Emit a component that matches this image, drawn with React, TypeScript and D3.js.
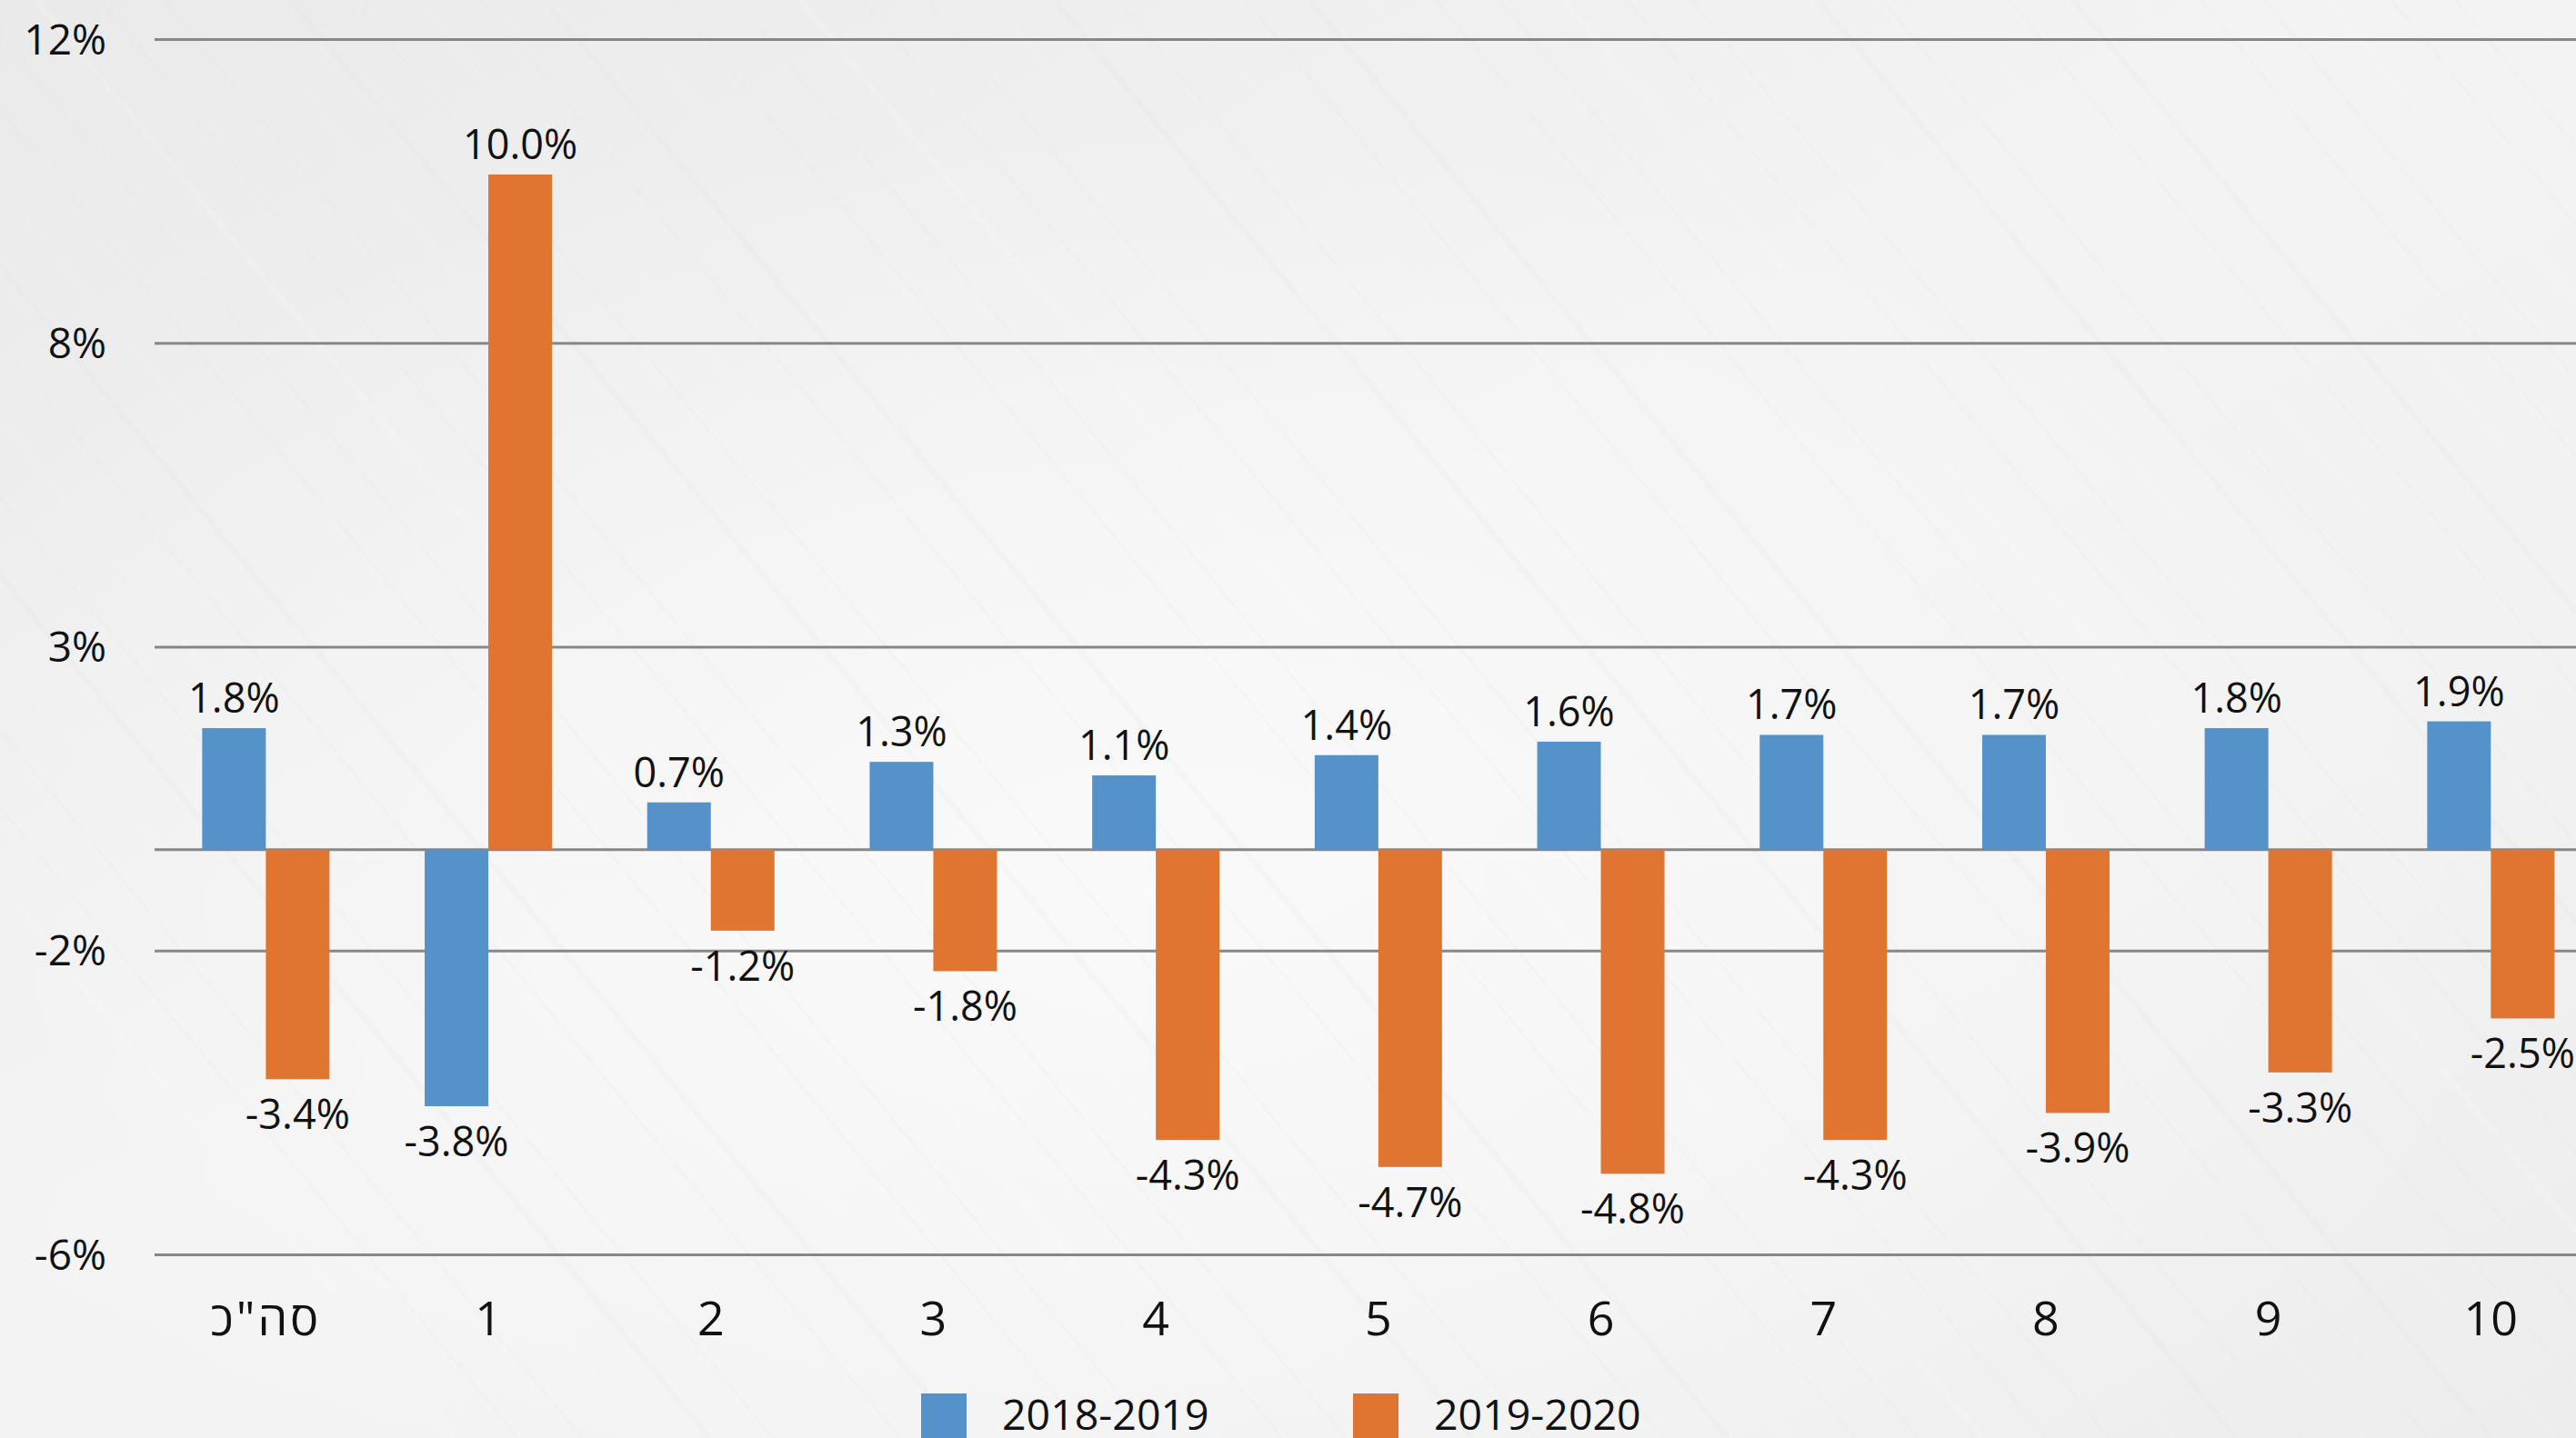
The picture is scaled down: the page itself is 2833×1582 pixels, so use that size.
import React from 'react';
import * as d3 from 'd3';

// ---- data ----
const categories = ['סה"כ', '1', '2', '3', '4', '5', '6', '7', '8', '9', '10'];
const series2018 = [1.8, -3.8, 0.7, 1.3, 1.1, 1.4, 1.6, 1.7, 1.7, 1.8, 1.9];
const series2019 = [-3.4, 10.0, -1.2, -1.8, -4.3, -4.7, -4.8, -4.3, -3.9, -3.3, -2.5];
const seriesNames = ['2018-2019', '2019-2020'];
const seriesColors = ['#5692CA', '#E07531'];
const tickValues = [12, 7.5, 3, -1.5, -6];
const tickLabels = ['12%', '8%', '3%', '-2%', '-6%'];

const W = 2833;
const H = 1582;
const FONT = "'Open Sans', 'DejaVu Sans', sans-serif";

export default function App() {
  const plotLeft = 170;
  const step = 244.7;
  const x0 = d3
    .scaleBand<string>()
    .domain(categories)
    .range([plotLeft, plotLeft + step * categories.length])
    .paddingInner(1 - 140 / step)
    .paddingOuter((1 - 140 / step) / 2);
  const x1 = d3.scaleBand<string>().domain(seriesNames).range([0, x0.bandwidth()]).padding(0);
  const y = d3.scaleLinear().domain([-6, 12]).range([1380.4, 43.4]);

  const allSeries = [series2018, series2019];

  // decorative diagonal streaks (background texture)
  const streaks = d3.range(0, 60).map((i) => i);

  return (
    <svg
      width={W}
      height={H}
      style={{ position: 'absolute', left: 0, top: 0, display: 'block' }}
      fontFamily={FONT}
    >
      <defs>
        <linearGradient id="bg" x1="0" y1="0" x2="1" y2="1">
          <stop offset="0" stopColor="#eaeaea" />
          <stop offset="0.45" stopColor="#f3f3f3" />
          <stop offset="0.7" stopColor="#f2f2f2" />
          <stop offset="1" stopColor="#ededed" />
        </linearGradient>
        <radialGradient id="glow" cx="0.45" cy="0.62" r="0.55">
          <stop offset="0" stopColor="#ffffff" stopOpacity="0.55" />
          <stop offset="1" stopColor="#ffffff" stopOpacity="0" />
        </radialGradient>
        <clipPath id="clip">
          <rect x={0} y={0} width={W} height={H} />
        </clipPath>
      </defs>
      <g clipPath="url(#clip)">
        <rect x={0} y={0} width={W} height={H} fill="url(#bg)" />
        <rect x={0} y={0} width={W} height={H} fill="url(#glow)" />
        <g opacity={0.35}>
          {streaks.map((i) => (
            <line
              key={i}
              x1={-800 + i * 70}
              y1={0}
              x2={-800 + i * 70 + 1300}
              y2={H}
              stroke={i % 3 === 0 ? '#ffffff' : '#e2e2e2'}
              strokeWidth={i % 4 === 0 ? 6 : 2}
              opacity={0.4}
            />
          ))}
        </g>

        {/* gridlines */}
        {tickValues.map((t) => (
          <line
            key={'g' + t}
            x1={plotLeft}
            x2={W}
            y1={y(t)}
            y2={y(t)}
            stroke="#878787"
            strokeWidth={3}
          />
        ))}
        {/* zero axis */}
        <line x1={plotLeft} x2={W} y1={y(0)} y2={y(0)} stroke="#878787" strokeWidth={3} />

        {/* tick labels */}
        {tickValues.map((t, i) => (
          <text
            key={'t' + t}
            x={117}
            y={y(t)}
            dy="0.35em"
            textAnchor="end"
            fontSize={46}
            fill="#111"
          >
            {tickLabels[i]}
          </text>
        ))}

        {/* bars */}
        {categories.map((c, ci) => (
          <g key={'c' + ci} transform={`translate(${x0(c)},0)`}>
            {allSeries.map((s, si) => {
              const v = s[ci];
              const bx = x1(seriesNames[si]) as number;
              const top = y(Math.max(0, v));
              const bottom = y(Math.min(0, v));
              return (
                <rect
                  key={si}
                  x={bx}
                  y={top}
                  width={x1.bandwidth()}
                  height={bottom - top}
                  fill={seriesColors[si]}
                />
              );
            })}
          </g>
        ))}

        {/* data labels */}
        {categories.map((c, ci) => (
          <g key={'l' + ci} transform={`translate(${x0(c)},0)`}>
            {allSeries.map((s, si) => {
              const v = s[ci];
              const cx = (x1(seriesNames[si]) as number) + x1.bandwidth() / 2;
              const ly = v >= 0 ? y(v) - 17 : y(v) + 55;
              return (
                <text key={si} x={cx} y={ly} textAnchor="middle" fontSize={45} fill="#111">
                  {v.toFixed(1) + '%'}
                </text>
              );
            })}
          </g>
        ))}

        {/* category labels */}
        {categories.map((c, ci) => (
          <text
            key={'x' + c}
            x={(x0(c) as number) + x0.bandwidth() / 2}
            y={1469}
            textAnchor="middle"
            fontSize={52}
            letterSpacing={ci === 0 ? 3 : 0}
            fill="#111"
          >
            {c}
          </text>
        ))}

        {/* legend */}
        {seriesNames.map((n, i) => {
          const lx = [1013, 1488][i];
          return (
            <g key={'lg' + n}>
              <rect x={lx} y={1533} width={50} height={50} fill={seriesColors[i]} />
              <text x={lx + 89} y={1573} fontSize={46.5} fill="#111">
                {n}
              </text>
            </g>
          );
        })}
      </g>
    </svg>
  );
}
